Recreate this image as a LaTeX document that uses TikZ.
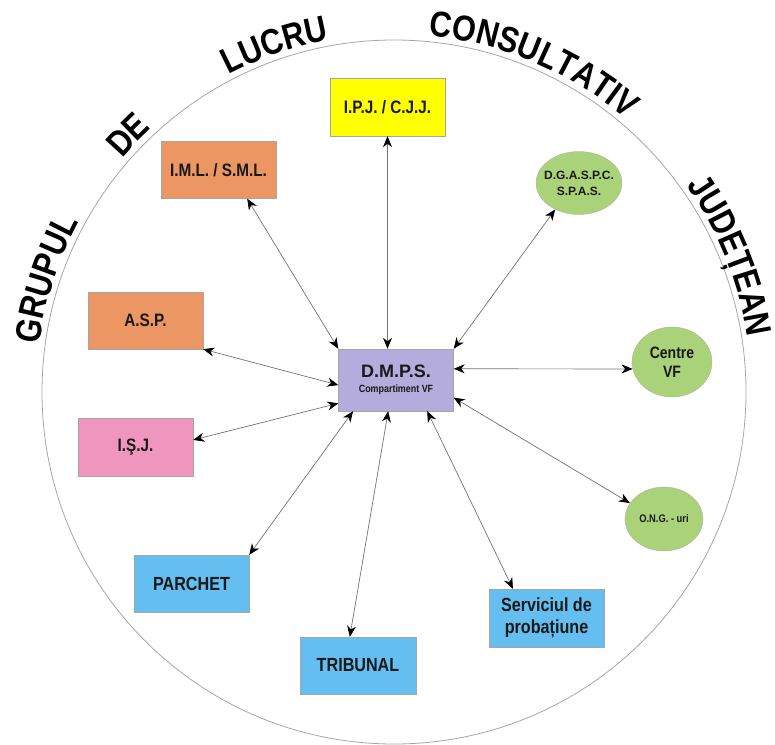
\documentclass[tikz,border=0pt]{standalone}
\usepackage{fontspec}
\setmainfont{Liberation Sans}
\newfontfamily\narrowfont[FakeStretch=0.85]{Liberation Sans}
\usepackage{xcolor}
\usepackage{tikz}
\usetikzlibrary{arrows.meta,shapes.geometric,decorations.text}

\definecolor{boxyellow}{RGB}{255,255,0}
\definecolor{boxorange}{RGB}{236,150,100}
\definecolor{boxpink}{RGB}{240,150,190}
\definecolor{boxblue}{RGB}{100,190,240}
\definecolor{boxlilac}{RGB}{180,172,220}
\definecolor{ovalgreen}{RGB}{170,210,120}
\newcommand{\ringfont}{\narrowfont\bfseries\fontsize{36}{40}\selectfont}

\begin{document}
\begin{tikzpicture}[x=1pt, y=1pt,
    box/.style={draw=gray!70, rectangle, minimum width=115pt, minimum height=57pt, inner sep=0pt, align=center, text=black!90},
    oval/.style={draw=gray!60, ellipse, fill=ovalgreen, inner sep=-8pt, align=center, text=black!90},
    link/.style={<->, >={Stealth[length=11pt,width=9pt,inset=3.5pt,color=black]}, draw=gray!90!black, line width=0.7pt},
    ringword/.style={decorate, decoration={text along path, text align=center, text={|\ringfont|#1}}}]
  \useasboundingbox (0,0) rectangle (775,-744);
  \coordinate (c) at (394,-392);
  \draw[gray!70, line width=0.8pt] (c) circle[radius=352];
  % words round the circle
  \path[ringword=GRUPUL] (c) ++(187:358) arc[start angle=187, end angle=137, radius=358];
  \path[ringword=DE] (c) ++(156:358) arc[start angle=156, end angle=116, radius=358];
  \path[ringword=LUCRU] (c) ++(134:358) arc[start angle=134, end angle=84, radius=358];
  \path[ringword=CONSULTATIV] (c) ++(97:358) arc[start angle=97, end angle=37, radius=358];
  \path[ringword=JUDEȚEAN] (c) ++(47:358) arc[start angle=47, end angle=-3, radius=358];
  % centre
  \node (dmps) at (396,-380) [box, fill=boxlilac, minimum height=62pt] {{\fontsize{18}{18}\selectfont\bfseries D.M.P.S.}\\[3pt]{\narrowfont\bfseries\fontsize{10.5}{12}\selectfont Compartiment VF}};
  % partners
  \node (ipj) at (387.5,-107) [box, fill=boxyellow, minimum height=58pt, font=\narrowfont\bfseries\fontsize{18}{20}\selectfont] {I.P.J. / C.J.J.};
  \node (iml) at (218.5,-170) [box, fill=boxorange, font=\narrowfont\bfseries\fontsize{18}{20}\selectfont] {I.M.L. / S.M.L.};
  \node (asp) at (145.5,-320.5) [box, fill=boxorange, font=\narrowfont\bfseries\fontsize{18}{20}\selectfont] {A.S.P.};
  \node (isj) at (135.5,-447) [box, fill=boxpink, minimum height=58pt, font=\narrowfont\bfseries\fontsize{18}{20}\selectfont] {I.Ş.J.};
  \node (parchet) at (191.5,-583.5) [box, fill=boxblue, font=\narrowfont\bfseries\fontsize{19}{22}\selectfont] {PARCHET};
  \node (tribunal) at (358,-665.5) [box, fill=boxblue, minimum width=116pt, font=\narrowfont\bfseries\fontsize{19}{22}\selectfont] {TRIBUNAL};
  \node (probatiune) at (546.5,-618) [box, fill=boxblue, minimum height=58pt, font=\narrowfont\bfseries\fontsize{19}{22}\selectfont] {Serviciul de\\probațiune};
  \node (dgaspc) at (579,-183) [oval, minimum width=86pt, minimum height=63pt, font=\bfseries\fontsize{12}{16}\selectfont] {D.G.A.S.P.C.\\S.P.A.S.};
  \node (centre) at (672,-362) [oval, minimum width=80pt, minimum height=70pt, font=\narrowfont\bfseries\fontsize{16.5}{19}\selectfont] {Centre\\VF};
  \node (ong) at (664,-519) [oval, minimum width=78pt, minimum height=64pt, font=\narrowfont\bfseries\fontsize{11}{13}\selectfont] {O.N.G. - uri};
  % links
  \draw[link] (ipj.south) -- (ipj.south |- dmps.north);
  \draw[link] (iml.-45) -- (dmps.north west);
  \draw[link] (asp.south east) -- (dmps.185);
  \draw[link] (isj.7) -- (dmps.202);
  \draw[link] (parchet.north east) -- (dmps.216);
  \draw[link] (tribunal.106) -- (dmps.256);
  \draw[link] (probatiune.139) -- (dmps.-45);
  \draw[link] (ong.155) -- (dmps.-17);
  \draw[link] (centre.190) -- (dmps.11);
  \draw[link] (dgaspc.228) -- (dmps.north east);
\end{tikzpicture}
\end{document}
